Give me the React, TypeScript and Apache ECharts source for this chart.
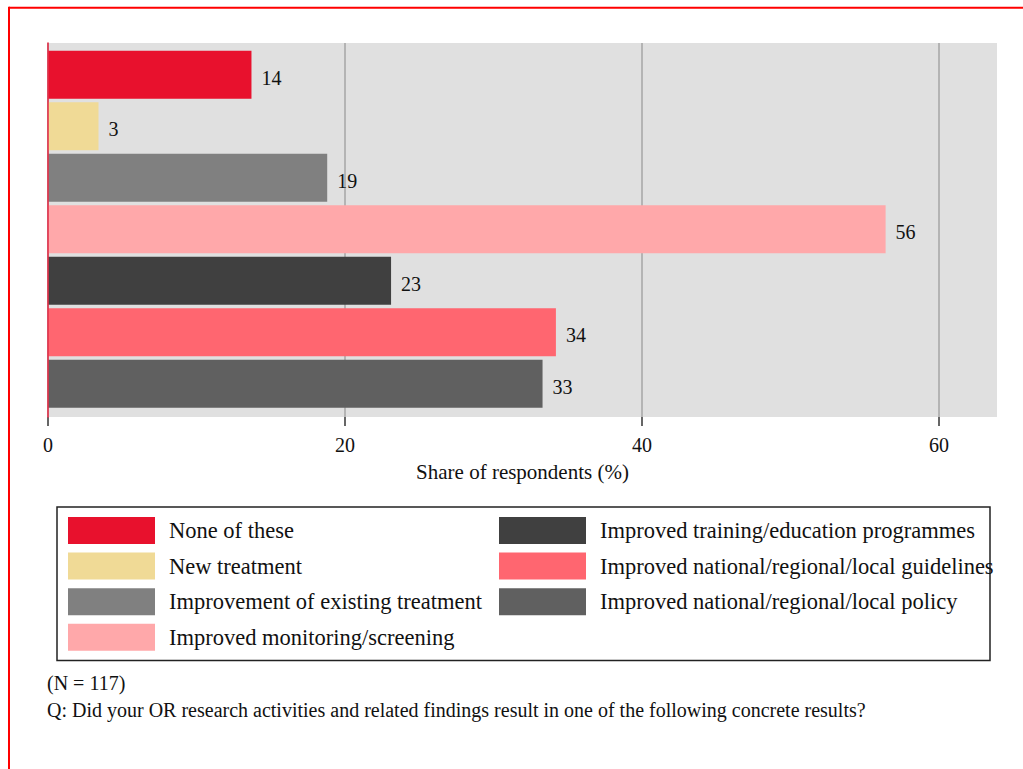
import React, { useEffect, useRef } from "react";
import * as echarts from "echarts";

const categories = [
  "None of these",
  "New treatment",
  "Improvement of existing treatment",
  "Improved monitoring/screening",
  "Improved training/education programmes",
  "Improved national/regional/local guidelines",
  "Improved national/regional/local policy",
];
const shares = [13.7, 3.4, 18.8, 56.4, 23.1, 34.2, 33.3];
const colors = ["#e8112d", "#f0da96", "#808080", "#ffa8aa", "#404040", "#ff6670", "#606060"];
const xTicks = [0, 20, 40, 60];
const xMin = 0;
const xMax = 63.9;
const axisTitle = "Share of respondents (%)";
const noteN = "(N = 117)";
const noteQ = "Q: Did your OR research activities and related findings result in one of the following concrete results?";

const FONT = "'Liberation Serif', 'Times New Roman', serif";

export default function App() {
  const ref = useRef<HTMLDivElement>(null);

  useEffect(() => {
    if (!ref.current) return;
    const chart = echarts.init(ref.current, undefined, { renderer: "svg" });

    const series = categories.map((name, i) => ({
      name,
      type: "bar",
      xAxisIndex: 1,
      yAxisIndex: 1,
      barWidth: 48,
      barGap: "-100%",
      itemStyle: { color: colors[i] },
      label: {
        show: true,
        position: "right",
        distance: 10,
        offset: [0, 3],
        formatter: (p: any) => String(Math.round(p.value[0])),
        fontFamily: FONT,
        fontSize: 20,
        color: "#111",
      },
      data: [[shares[i], name]],
    }));

    const legendCommon = {
      orient: "vertical",
      top: 517,
      itemWidth: 87,
      itemHeight: 27,
      itemGap: 8.6,
      icon: "rect",
      padding: 0,
      selectedMode: false,
      textStyle: {
        fontFamily: FONT,
        fontSize: 22.5,
        color: "#111",
        padding: [4, 0, 0, 9],
      },
    };

    chart.setOption({
      animation: false,
      backgroundColor: "#ffffff",
      textStyle: { fontFamily: FONT },
      grid: [
        {
          left: 48,
          right: 26,
          top: 43,
          height: 374,
          show: true,
          backgroundColor: "#e0e0e0",
          borderWidth: 0,
        },
        {
          left: 48,
          right: 26,
          top: 49,
          height: 360.5,
        },
      ],
      xAxis: [
        {
          type: "value",
          gridIndex: 0,
          min: xMin,
          max: xMax,
          interval: 20,
          axisLine: { show: false },
          axisTick: {
            show: true,
            length: 9,
            lineStyle: { color: "#333", width: 1.5 },
            customValues: xTicks,
          },
          axisLabel: {
            show: true,
            margin: 18,
            fontFamily: FONT,
            fontSize: 20,
            color: "#111",
            customValues: xTicks,
          },
          splitLine: { show: true, lineStyle: { color: "#b4b4b4", width: 2 } },
          name: axisTitle,
          nameLocation: "middle",
          nameGap: 44,
          nameTextStyle: { fontFamily: FONT, fontSize: 21, color: "#111" },
        },
        {
          type: "value",
          gridIndex: 1,
          min: xMin,
          max: xMax,
          show: false,
        },
      ],
      yAxis: [
        {
          type: "value",
          gridIndex: 0,
          min: 0,
          max: 1,
          z: 10,
          axisLine: { show: true, lineStyle: { color: "#e5304a", width: 1.6 } },
          axisTick: { show: false },
          axisLabel: { show: false },
          splitLine: { show: false },
        },
        {
          type: "category",
          gridIndex: 1,
          data: categories,
          inverse: true,
          show: false,
        },
      ],
      legend: [
        { ...legendCommon, left: 68, data: categories.slice(0, 4) },
        { ...legendCommon, left: 499, data: categories.slice(4) },
      ],
      graphic: [
        {
          type: "line",
          shape: { x1: 9, y1: 7.7, x2: 1023, y2: 7.7 },
          style: { stroke: "#ff0000", lineWidth: 2 },
        },
        {
          type: "line",
          shape: { x1: 9, y1: 6.7, x2: 9, y2: 769 },
          style: { stroke: "#ff0000", lineWidth: 2 },
        },
        {
          type: "rect",
          shape: { x: 57, y: 507, width: 933, height: 153.5 },
          style: { fill: "none", stroke: "#222", lineWidth: 1.5 },
          z: 1,
        },
        {
          type: "text",
          x: 47,
          y: 683,
          style: {
            text: noteN,
            fontFamily: FONT,
            fontSize: 20,
            fill: "#111",
            verticalAlign: "middle",
          },
        },
        {
          type: "text",
          x: 47,
          y: 710,
          style: {
            text: noteQ,
            fontFamily: FONT,
            fontSize: 20,
            fill: "#111",
            verticalAlign: "middle",
          },
        },
      ],
      series,
    });

    return () => chart.dispose();
  }, []);

  return (
    <div
      ref={ref}
      style={{ position: "fixed", left: 0, top: 0, width: 1023, height: 769 }}
    />
  );
}
